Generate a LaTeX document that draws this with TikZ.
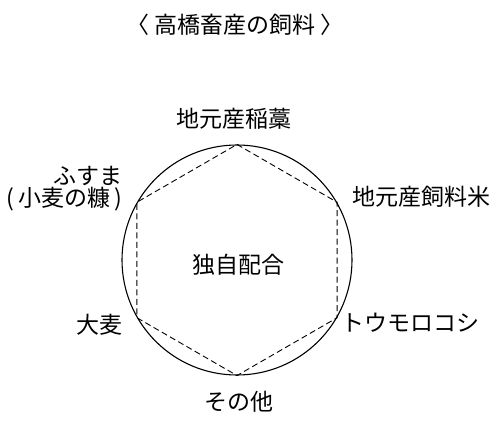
\documentclass[tikz,border=0pt]{standalone}
\usepackage{fontspec}
\setmainfont{Noto Sans CJK JP}
\usepackage{tikz}

\tikzset{
  feed/.style={inner sep=0pt, font=\fontsize{23}{26}\selectfont},
}

\begin{document}
\begin{tikzpicture}[x=1pt, y=1pt]

    \useasboundingbox (0,0) rectangle (500,426);

    \node[feed] (title) at (235,401) {〈 高橋畜産の飼料 〉};

    \node[draw, circle, minimum size=230pt, inner sep=0pt, line width=1.1pt] (ring) at (237,166) {};

    \draw[line width=0.9pt, dash pattern=on 6pt off 3.5pt]
      (ring.90) -- (ring.30) -- (ring.-30) -- (ring.-90) -- (ring.-150) -- (ring.150) -- cycle;

    \node[feed] (mix) at (238,161) {独自配合};

    \node[feed] (straw) at (234,307) {地元産稲藁};

    \node[feed] (rice) at (421,229) {地元産飼料米};

    \node[feed] (corn) at (410,103) {トウモロコシ};

    \node[feed] (other) at (239,24) {その他};

    \node[feed] (barley) at (99,101) {大麦};

    \node[feed, anchor=east] (bran) at (123,250) {ふすま};

    \node[feed, anchor=east] (branx) at (122,227) {(\kern4pt小麦の糠\kern4pt)};

  \end{tikzpicture}
\end{document}
